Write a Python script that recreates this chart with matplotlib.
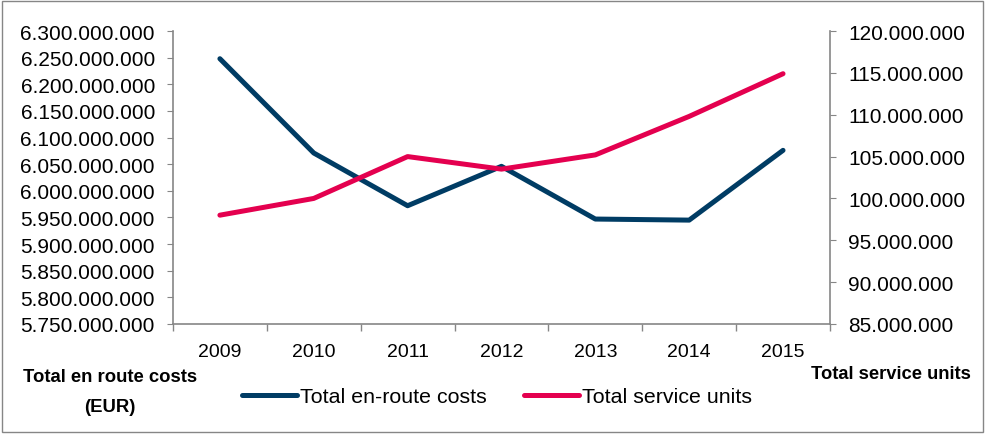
import numpy as np
import matplotlib.pyplot as plt
from matplotlib.ticker import FuncFormatter, FixedLocator
from matplotlib.patches import Rectangle

# data
years = ["2009", "2010", "2011", "2012", "2013", "2014", "2015"]
costs = [6.248e9, 6.071e9, 5.972e9, 6.046e9, 5.947e9, 5.945e9, 6.076e9]
units = [98.0e6, 100.0e6, 105.0e6, 103.5e6, 105.2e6, 109.8e6, 114.9e6]

blue = "#003C64"
pink = "#E4004F"
axis_grey = "#868686"

plt.rcParams["font.family"] = ["Liberation Sans", "DejaVu Sans"]


def dotted(v, pos):
    # thousands separator as a dot
    return "{:,.0f}".format(v).replace(",", ".")


fig = plt.figure(figsize=(9.85, 4.35), dpi=100)
ax = fig.add_axes([0.1756, 0.2529, 0.8426 - 0.1756, 0.9264 - 0.2529])
ax2 = ax.twinx()

x = np.arange(len(years))
l1, = ax.plot(x, costs, color=blue, lw=3.6, solid_capstyle="round",
              label="Total en-route costs")
l2, = ax2.plot(x, units, color=pink, lw=3.6, solid_capstyle="round",
               label="Total service units")

ax.set_xlim(-0.5, len(years) - 0.5)
ax.set_ylim(5.75e9, 6.30e9)
ax.set_yticks(np.arange(5.75e9, 6.30e9 + 1, 0.05e9))
ax2.set_ylim(85e6, 120e6)
ax2.set_yticks(np.arange(85e6, 120e6 + 1, 5e6))
ax.yaxis.set_major_formatter(FuncFormatter(dotted))
ax2.yaxis.set_major_formatter(FuncFormatter(dotted))

# tick marks between categories, labels on the categories
ax.xaxis.set_major_locator(FixedLocator(np.arange(-0.5, len(years), 1.0)))
ax.xaxis.set_minor_locator(FixedLocator(x))
ax.set_xticklabels([], minor=False)
ax.set_xticklabels(years, minor=True)
ax.tick_params(axis="x", which="major", length=5, color=axis_grey, width=1)
ax.tick_params(axis="x", which="minor", length=0, pad=14, labelsize=14)

for a in (ax, ax2):
    for s in a.spines.values():
        s.set_visible(False)
ax.spines["left"].set_visible(True)
ax.spines["bottom"].set_visible(True)
ax2.spines["right"].set_visible(True)
for s in (ax.spines["left"], ax.spines["bottom"], ax2.spines["right"]):
    s.set_color(axis_grey)
    s.set_linewidth(1.2)

ax.tick_params(axis="y", length=4.5, color=axis_grey, labelsize=15, pad=8.5)
ax2.tick_params(axis="y", length=4.5, color=axis_grey, labelsize=15, pad=8.5)

fig.text(110 / 985, 1 - 378 / 435, "Total en route costs", ha="center", va="center",
         fontsize=13.3, fontweight="bold")
fig.text(110 / 985, 1 - 408 / 435, "(EUR)", ha="center", va="center",
         fontsize=13.3, fontweight="bold")
fig.text(891 / 985, 1 - 375 / 435, "Total service units", ha="center", va="center",
         fontsize=13.2, fontweight="bold")

fig.legend(handles=[l1, l2], loc="center", bbox_to_anchor=(497 / 985, 1 - 398 / 435),
           ncol=2, frameon=False, fontsize=15.4, handlelength=2.6,
           handletextpad=0.15, columnspacing=1.7)

# grey frame around the whole chart
fig.patches.append(Rectangle((2 / 985, 2 / 435), 981 / 985, 431 / 435,
                             transform=fig.transFigure, fill=False,
                             edgecolor=axis_grey, lw=1))

fig.savefig("out.png", dpi=100)
